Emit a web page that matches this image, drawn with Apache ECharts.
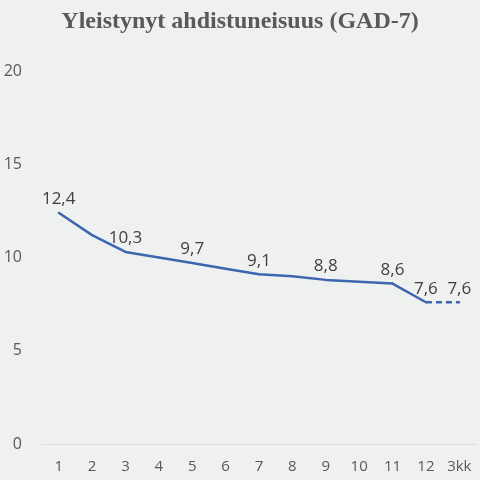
<!DOCTYPE html>
<html><head><meta charset="utf-8">
<script src="https://cdn.jsdelivr.net/npm/echarts@6/dist/echarts.min.js"></script>
<style>html,body{margin:0;padding:0;background:#eef1f0}#c{width:480px;height:480px}</style>
</head><body><div id="c"></div>
<script>
const categories = ['1','2','3','4','5','6','7','8','9','10','11','12','3kk'];
const mainValues = [12.4, 11.2, 10.3, 10.0, 9.7, 9.4, 9.1, 9.0, 8.8, 8.7, 8.6, 7.6, null];
const followValues = [null, null, null, null, null, null, null, null, null, null, null, 7.6, 7.6];
const labelledMain = [0, 2, 4, 6, 8, 10, 11];
const yTicks = {min: 0, max: 20, interval: 5};

const FONT = '"Open Sans", "Noto Sans", sans-serif';
const LINE = '#3d66ae';
const fmt = v => v.toFixed(1).replace('.', ',');
const labelStyle = {position: 'top', distance: 4, fontSize: 17, color: '#404040', fontFamily: FONT};

const chart = echarts.init(document.getElementById('c'), null, {renderer: 'canvas'});
chart.setOption({
  backgroundColor: '#eef1f0',
  animation: false,
  title: {
    text: 'Yleistynyt ahdistuneisuus (GAD-7)', left: 'center', top: 5,
    textStyle: {fontFamily: '"Liberation Serif", serif', fontWeight: 'bold', fontSize: 24, color: '#595959'}
  },
  grid: {left: 42, right: 4, top: 71, bottom: 36},
  xAxis: {
    type: 'category', data: categories, boundaryGap: true,
    axisLine: {show: true, lineStyle: {color: '#dcdfde', width: 1}},
    axisTick: {show: false},
    axisLabel: {color: '#595959', fontSize: 15, margin: 15, fontFamily: FONT}
  },
  yAxis: {
    type: 'value', min: yTicks.min, max: yTicks.max, interval: yTicks.interval,
    axisLine: {show: false}, axisTick: {show: false}, splitLine: {show: false},
    axisLabel: {color: '#595959', fontSize: 16, margin: 20, fontFamily: FONT}
  },
  series: [
    {
      type: 'line', data: mainValues.map((v, i) => ({
        value: v,
        label: Object.assign({}, labelStyle, {show: labelledMain.includes(i), formatter: p => fmt(p.value)})
      })),
      showSymbol: true, symbol: 'circle', symbolSize: 2,
      itemStyle: {color: LINE},
      lineStyle: {color: LINE, width: 2.5}
    },
    {
      type: 'line', data: followValues.map((v, i) => ({
        value: v,
        label: Object.assign({}, labelStyle, {show: i === 12, formatter: p => fmt(p.value)})
      })),
      showSymbol: true, symbol: 'circle', symbolSize: 2,
      itemStyle: {color: LINE},
      lineStyle: {color: LINE, width: 2.5, type: [6, 4]}
    }
  ]
});
</script></body></html>
